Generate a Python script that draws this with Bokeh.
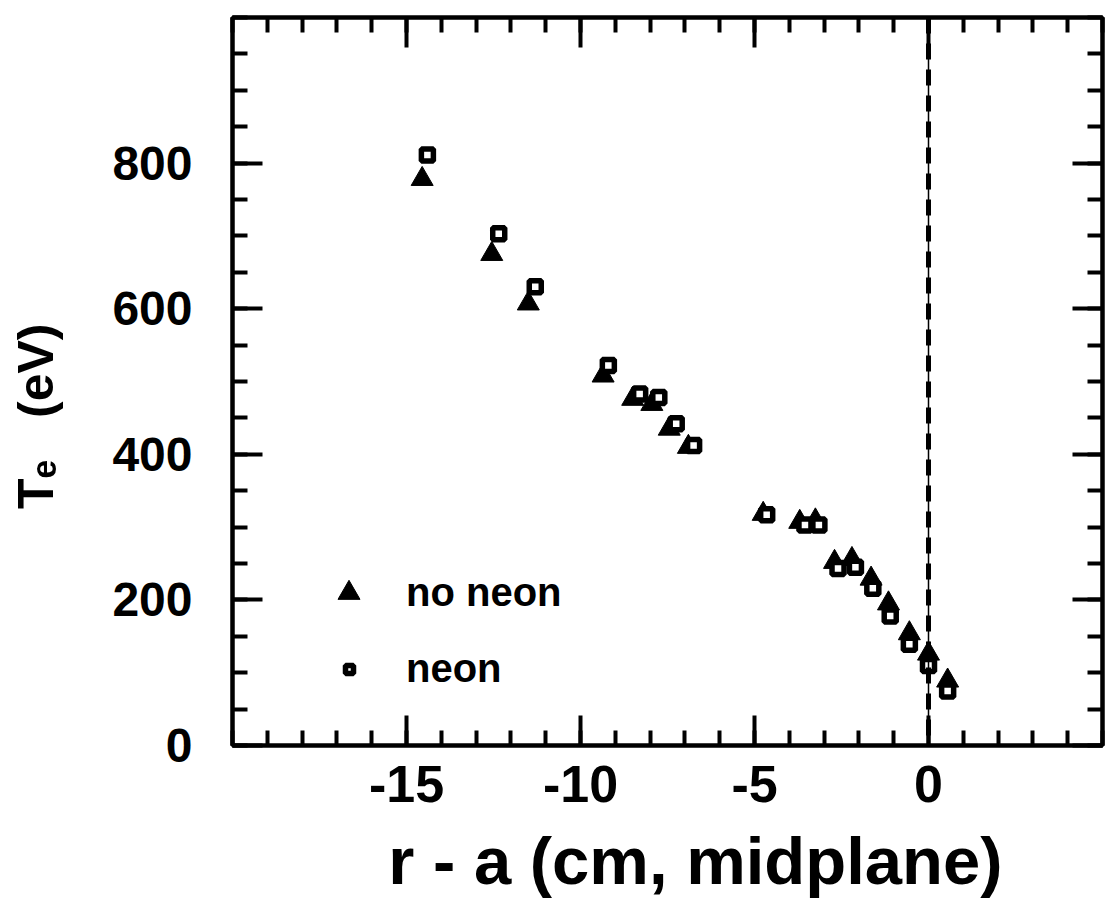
from bokeh.plotting import figure
from bokeh.models import (LinearAxis, FixedTicker, Span, Legend, LegendItem,
                          Range1d, ColumnDataSource, PrintfTickFormatter)
from bokeh.embed import file_html
from bokeh.resources import INLINE

# ---- data ----
no_neon_x = [-14.55, -12.55, -11.5, -9.35, -8.5, -7.95, -7.45, -6.9, -4.75,
             -3.7, -3.25, -2.7, -2.2, -1.65, -1.15, -0.55, 0.0, 0.55]
no_neon_y = [778, 675, 607, 508, 476, 469, 435, 410, 318,
             307, 309, 252, 256, 229, 195, 154, 126, 89]
neon_x = [-14.4, -12.35, -11.3, -9.2, -8.3, -7.75, -7.25, -6.75, -4.65,
          -3.55, -3.15, -2.6, -2.1, -1.6, -1.1, -0.55, 0.0, 0.55]
neon_y = [811, 703, 630, 522, 483, 478, 442, 412, 317,
          303, 303, 243, 245, 216, 178, 139, 110, 75]

x_major_ticks = [-15, -10, -5, 0]
x_minor_ticks = list(range(-20, 6))
y_major_ticks = [0, 200, 400, 600, 800]
y_minor_ticks = list(range(0, 1001, 50))
x_limits = (-20, 5)
y_limits = (0, 1000)
separatrix_x = 0

NB = "\u00a0"
x_title = NB * 3 + "r - a (cm, midplane)"
y_title = "T\u2091" + NB * 3 + "(eV)" + NB * 5

FONT = "Liberation Sans"

p = figure(width=1105, height=912, output_backend="svg", toolbar_location=None,
           x_range=Range1d(*x_limits), y_range=Range1d(*y_limits),
           min_border_left=232, min_border_right=3, min_border_top=17,
           min_border_bottom=167, x_axis_location=None, y_axis_location=None)
p.background_fill_color = "white"
p.border_fill_color = "white"
p.outline_line_color = "black"
p.outline_line_width = 4
p.xgrid.visible = False
p.ygrid.visible = False


def make_axis(ticks, minor, show_labels, size="42px"):
    ax = LinearAxis(ticker=FixedTicker(ticks=ticks, minor_ticks=minor))
    ax.axis_line_width = 4
    ax.axis_line_color = "black"
    ax.major_tick_in = 30
    ax.major_tick_out = 0
    ax.minor_tick_in = 15
    ax.minor_tick_out = 0
    ax.major_tick_line_width = 4
    ax.minor_tick_line_width = 4
    ax.major_tick_line_color = "black"
    ax.minor_tick_line_color = "black"
    ax.formatter = PrintfTickFormatter(format="%d")
    if show_labels:
        ax.major_label_text_font = FONT
        ax.major_label_text_font_style = "bold"
        ax.major_label_text_font_size = size
        ax.major_label_text_color = "black"
        ax.axis_label_text_font = FONT
        ax.axis_label_text_font_style = "bold"
        ax.axis_label_text_color = "black"
    else:
        ax.major_label_text_font_size = "0px"
        ax.major_label_standoff = 0
        ax.major_label_text_color = None
    return ax


bottom = make_axis(x_major_ticks, x_minor_ticks, True, "52px")
bottom.major_label_standoff = 20
bottom.axis_label = x_title
bottom.axis_label_text_font_size = "67px"
bottom.axis_label_standoff = 18

left = make_axis(y_major_ticks, y_minor_ticks, True, "48px")
left.major_label_standoff = 40
left.axis_label = y_title
left.axis_label_text_font_size = "50px"
left.axis_label_standoff = 45

top = make_axis(x_major_ticks, x_minor_ticks, False)
right = make_axis(y_major_ticks, y_minor_ticks, False)
p.add_layout(bottom, "below")
p.add_layout(left, "left")
p.add_layout(top, "above")
p.add_layout(right, "right")

# separatrix line (thin solid + thick dashes)
p.add_layout(Span(location=separatrix_x, dimension="height", line_color="black",
                  line_width=1.5))
p.add_layout(Span(location=separatrix_x, dimension="height", line_color="black",
                  line_width=5, line_dash="16 10"))

src_a = ColumnDataSource(dict(x=no_neon_x, y=no_neon_y))
src_b = ColumnDataSource(dict(x=neon_x, y=neon_y))
tri = p.scatter("x", "y", source=src_a, marker="triangle", size=22,
                fill_color="black", line_color="black", line_width=1)
sq = p.scatter("x", "y", source=src_b, marker="square", size=12,
               fill_color="white", line_color="black", line_width=5.5)


def make_legend(label, r, loc, glyph, standoff):
    lg = Legend(items=[LegendItem(label=label, renderers=[r])], location=loc,
                glyph_width=glyph, glyph_height=glyph, label_standoff=standoff,
                padding=0, margin=0, spacing=0, border_line_color=None,
                background_fill_alpha=0, label_text_font=FONT,
                label_text_font_style="bold", label_text_font_size="40px",
                label_text_color="black")
    return lg


p.add_layout(make_legend("no neon", tri, (89, 125), 55, 30))
p.add_layout(make_legend("neon", sq, (107, 54), 20, 47))

open("out.html", "w").write(file_html(p, INLINE))
